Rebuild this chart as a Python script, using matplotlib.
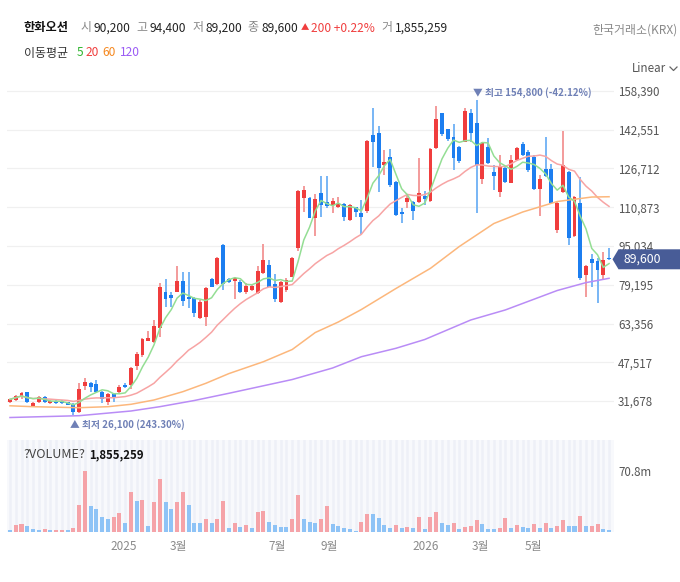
import numpy as np
import pandas as pd
import matplotlib
matplotlib.use('Agg')
import matplotlib.pyplot as plt
from matplotlib.patches import Polygon
from matplotlib.lines import Line2D
from matplotlib.transforms import IdentityTransform

plt.rcParams['font.family'] = ['Noto Sans CJK KR', 'DejaVu Sans']

stock_name = '한화오션'
exchange = '한국거래소(KRX)'

# weekly candles (KRW)
opens = [31270, 32090, 33720, 35230, 29640, 31270, 33310, 30740, 31800, 31680,
         31150, 30450, 27180, 37930, 38910, 38630, 35480, 31390, 34660, 35480,
         38220, 38220, 45980, 50480, 56320, 55910, 61510, 76350, 75000, 76350,
         80850, 74310, 73650, 65480, 66130, 81540, 79490, 95440, 81540, 80850,
         80440, 76350, 77040, 75690, 84110, 87260, 79490, 72020, 77040, 82480,
         94080, 114520, 114520, 106590, 116810, 112890, 111790, 110840, 112070, 105650,
         110840, 108390, 109330, 140390, 141330, 128130, 131280, 121060, 109050, 112890,
         112890, 112890, 115460, 113420, 135200, 149260, 142720, 139450, 135610, 137660,
         149260, 145170, 122290, 135370, 125400, 117220, 126780, 120900, 130180, 136720,
         133570, 131520, 118200, 126500, 126500, 101570, 117220, 125400, 99110, 112480,
         83170, 89590, 88900, 83170, 90200]
highs = [32620, 34130, 35480, 35480, 31390, 33600, 33720, 31960, 32090, 31960,
         31390, 30980, 38910, 41200, 39440, 40260, 35640, 34830, 34950, 38220,
         38910, 45700, 51830, 57550, 60170, 64780, 79900, 81420, 76350, 86850,
         84520, 84520, 74310, 72960, 78390, 81830, 90600, 95800, 82070, 82480,
         81130, 80030, 79490, 86850, 95720, 89300, 83460, 80720, 81830, 90650,
         117910, 119670, 115000, 116160, 123760, 123640, 114520, 115170, 112480, 112070,
         111090, 113830, 138350, 151550, 144070, 134260, 134550, 121400, 110440, 115870,
         113420, 130870, 117500, 134960, 152240, 149500, 143000, 144770, 135900, 151300,
         150900, 154800, 137660, 139040, 128130, 132220, 127190, 132220, 135610, 137660,
         134260, 132220, 124040, 139700, 128540, 113130, 142150, 125700, 115460, 123100,
         87260, 91760, 90000, 92700, 94400]
lows = [30980, 31680, 32620, 30860, 29230, 30980, 30740, 30450, 30450, 30450,
        29920, 26100, 26900, 36170, 35230, 34830, 30740, 30040, 31390, 35070,
        36870, 36580, 44350, 49540, 56080, 55260, 57840, 69970, 69970, 76100,
        70630, 69810, 66130, 65070, 62450, 78150, 79090, 77040, 79780, 73370,
        75940, 75290, 76760, 75290, 83580, 78150, 72020, 71610, 76350, 82230,
        92980, 108800, 106350, 99230, 106980, 110440, 108390, 110440, 105240, 105240,
        106980, 99810, 108390, 127440, 117220, 124040, 119260, 107410, 104310, 110680,
        105650, 112480, 111790, 113130, 134550, 140100, 138070, 126090, 128830, 137410,
        137660, 108640, 120370, 128540, 117910, 115170, 120650, 120650, 129890, 131810,
        125400, 117910, 107290, 123100, 112190, 100220, 116810, 95440, 98830, 81130,
        74310, 78390, 71610, 81420, 89200]
closes = [32370, 33720, 35070, 31150, 30980, 33310, 31150, 31680, 30740, 30740,
          30170, 27180, 36580, 39320, 37520, 35480, 32370, 34540, 33310, 37520,
          37280, 45290, 50890, 57140, 57430, 62330, 78270, 73240, 73900, 80850,
          72670, 73240, 67520, 72260, 77980, 78390, 90240, 79490, 80190, 82070,
          76350, 78680, 78680, 84930, 89300, 78390, 73370, 80440, 81130, 90240,
          117630, 117910, 106590, 114240, 111790, 111380, 113420, 112070, 107000, 111790,
          109050, 106980, 138070, 137660, 127030, 129480, 119960, 107700, 107980, 114520,
          109330, 116810, 114240, 134550, 146930, 140680, 138630, 130870, 129890, 150330,
          141330, 128130, 136990, 129070, 123640, 127720, 121310, 130180, 134960, 132220,
          126090, 118200, 122290, 123640, 112480, 112720, 128130, 98170, 115170, 81830,
          86850, 88200, 85220, 89400, 89600]
# weekly volume, millions of shares
volumes_m = [2.7, 8.2, 9.7, 7.4, 3.9, 1.9, 3.9, 1.9, 2.7, 2.8,
             2.6, 5.1, 31.9, 70.8, 30.7, 26.5, 17.9, 15.6, 17.9, 22.6,
             10.9, 47.1, 36.6, 37.7, 7.4, 35.4, 62.2, 35.4, 27.2, 35.4,
             47.1, 31.9, 10.9, 10.8, 15.6, 10.1, 15.6, 36.6, 5.1, 10.9,
             6.2, 8.6, 5.1, 23.7, 24.9, 12.1, 8.6, 6.2, 6.1, 15.6,
             43.6, 15.6, 12.1, 10.9, 15.6, 30.7, 9.7, 7.4, 5.1, 3.9,
             0.8, 12.1, 21.4, 21.3, 16.7, 8.6, 5.1, 8.6, 5.1, 6.2,
             5.1, 17.9, 3.9, 17.9, 23.7, 10.9, 8.6, 10.9, 3.9, 6.2,
             7.4, 14.4, 9.7, 3.9, 3.8, 5.1, 16.7, 5.1, 8.6, 6.2,
             5.1, 9.7, 5.1, 10.9, 5.1, 7.4, 14.4, 7.4, 7.3, 19.1,
             7.4, 7.5, 9.7, 3.9, 1.855259]

# long moving averages (bar index, price)
ma60_idx = [0, 4, 12, 17, 21, 25, 30, 34, 38, 44, 49, 53, 57, 61, 67, 73, 78, 84, 89, 95, 101, 104]
ma60_val = [29720, 29350, 28940, 29350, 30330, 32090, 35480, 38910, 42880, 47740, 52730,
            59670, 63970, 69070, 77660, 85910, 94820, 104220, 108920, 113210, 115050, 115170]
ma120_idx = [0, 12, 21, 26, 32, 38, 49, 56, 61, 67, 72, 80, 86, 95, 100, 104]
ma120_val = [24930, 25670, 27590, 29350, 31880, 34830, 40460, 45160, 49780, 53220,
             56810, 64800, 68900, 76840, 80070, 81830]

month_labels = ['2025', '3월', '7월', '9월', '2026', '3월', '5월']
month_pos = [19.7, 29.2, 46.3, 55.5, 72.2, 81.6, 90.8]
price_ticks = [31678, 47517, 63356, 79195, 95034, 110873, 126712, 142551, 158390]

UP, DOWN = '#f03d3d', '#1c7ef0'
UP_W, DOWN_W = '#f39b9b', '#78b6f5'
UP_V, DOWN_V = '#f5a3a8', '#8ec3f6'

W, H = 680, 582
def fx(px):
    return px / W
def fy(py):
    return 1 - py / H

o = np.array(opens); h = np.array(highs); l = np.array(lows); c = np.array(closes)
v = np.array(volumes_m)
n = len(c)
x = np.arange(n)
up = c >= o

fig = plt.figure(figsize=(6.8, 5.82), dpi=100)
ax = fig.add_axes([fx(7), fy(435), (614 - 7) / W, (435 - 80) / H])
vax = fig.add_axes([fx(7), fy(532), (614 - 7) / W, (532 - 440) / H])

# candles
ax.vlines(x, l, h, colors=np.where(up, UP_W, DOWN_W), lw=1.4, zorder=2)
body = np.maximum(np.abs(c - o), 300)
ax.bar(x, body, bottom=np.minimum(o, c), width=0.68,
       color=np.where(up, UP, DOWN), zorder=3)

ma5 = pd.Series(c).rolling(5, min_periods=1).mean()
ma20 = pd.Series(c).rolling(20, min_periods=1).mean()
ax.plot(x, ma20, color='#f7a4a4', lw=1.1, zorder=4)
ax.plot(ma60_idx, ma60_val, color='#fcb77c', lw=1.1, zorder=4)
ax.plot(ma120_idx, ma120_val, color='#b98cf6', lw=1.1, zorder=4)
ax.plot(x, ma5, color='#94de94', lw=1.1, zorder=4)

ax.set_xlim(-0.52, 104.86)
ax.set_ylim(17781, 162886)
ax.set_yticks(price_ticks, [f'{t:,}' for t in price_ticks])
ax.yaxis.tick_right()
ax.tick_params(axis='y', length=0, pad=3, labelsize=8.3, labelcolor='#555555')
ax.set_xticks([])
ax.grid(axis='y', color='#f0f0f0', lw=0.9, zorder=0)
for s in ax.spines.values():
    s.set_visible(False)

# high / low markers
last = c[-1]
hi = int(np.argmax(h)); lo = int(np.argmin(l))
ax.annotate(f'▼ 최고 {h[hi]:,} ({(last - h[hi]) / h[hi] * 100:.2f}%)',
            xy=(hi, h[hi]), xytext=(-4, 7), textcoords='offset pixels',
            ha='left', va='center', fontsize=7.0, fontweight='bold', color='#6f80b6')
ax.annotate(f'▲ 최저 {l[lo]:,} ({(last - l[lo]) / l[lo] * 100:.2f}%)',
            xy=(lo, l[lo]), xytext=(-3, -10), textcoords='offset pixels',
            ha='left', va='center', fontsize=7.0, fontweight='bold', color='#6f80b6',
            annotation_clip=False)

# volume panel
vax.set_facecolor('#f8f9fc')
for i in x:
    vax.axvline(i, color='#eef0f7', lw=1.8, zorder=0)
vol_up = np.concatenate([[False], v[1:] > v[:-1]])
vax.bar(x, v, width=0.7, color=np.where(vol_up, UP_V, DOWN_V), zorder=2)
vmax = v.max()
vax.set_xlim(-0.52, 104.86)
vax.set_ylim(0, vmax * 1.52)
vax.set_yticks([vmax], [f'{vmax:.1f}m'])
vax.yaxis.tick_right()
vax.tick_params(axis='y', length=0, pad=3, labelsize=8.3, labelcolor='#555555')
vax.set_xticks(month_pos, month_labels)
vax.tick_params(axis='x', length=0, pad=6, labelsize=8.5, labelcolor='#8a8a8a')
for s in vax.spines.values():
    s.set_visible(False)

fig.text(fx(23), fy(455), '?VOLUME?', fontsize=9.0, color='#444444', va='center')
fig.text(fx(89), fy(455), f'{int(round(v[-1] * 1e6)):,}', fontsize=8.2,
         fontweight='bold', color='#111111', va='center')

# header
hy = fy(28)
fig.text(fx(24), hy, stock_name, fontsize=8.8, fontweight='bold', color='#111111', va='center')
pairs = [('시', o[-1], 80.8, 93.9), ('고', h[-1], 136.2, 149.8),
         ('저', l[-1], 192.1, 205.2), ('종', c[-1], 247.6, 261.1)]
for lab, val, lx, vx in pairs:
    fig.text(fx(lx), hy, lab, fontsize=8.6, color='#888888', va='center')
    fig.text(fx(vx), hy, f'{val:,}', fontsize=8.6, color='#222222', va='center')
chg = c[-1] - c[-2]
fig.text(fx(300.5), hy, '▲', fontsize=6, color='#f03e3e', va='center')
fig.text(fx(311.4), hy, f'{chg:,} +{chg / c[-2] * 100:.2f}%', fontsize=8.6,
         color='#f03e3e', va='center')
fig.text(fx(381.2), hy, '거', fontsize=8.6, color='#888888', va='center')
fig.text(fx(395.2), hy, f'{int(round(v[-1] * 1e6)):,}', fontsize=8.6, color='#222222', va='center')
fig.text(fx(678), fy(30), exchange, fontsize=8.6, color='#8a8a8a', va='center', ha='right')

my = fy(53)
fig.text(fx(24), my, '이동평균', fontsize=8.6, color='#333333', va='center')
for lab, col, px in [('5', '#2fb52f', 76.4), ('20', '#f03e3e', 86),
                     ('60', '#f5881f', 102.6), ('120', '#9b5cf5', 120.1)]:
    fig.text(fx(px), my, lab, fontsize=8.6, color=col, va='center')

fig.text(fx(632), fy(69), 'Linear', fontsize=8.4, color='#555555', va='center')
fig.add_artist(Line2D([fx(670), fx(673.5), fx(677)], [fy(67), fy(70.5), fy(67)],
                      transform=fig.transFigure, color='#666666', lw=0.9))

# current price tag
fig.canvas.draw()
ty = ax.transData.transform((0, last))[1]
tag = Polygon([(612.5, ty), (618.5, ty + 10), (680, ty + 10), (680, ty - 10), (618.5, ty - 10)],
              closed=True, transform=IdentityTransform(), facecolor='#485c97',
              edgecolor='none', zorder=10)
fig.add_artist(tag)
fig.text(624, ty, f'{last:,}', transform=IdentityTransform(), fontsize=8.8,
         color='white', va='center', zorder=11)

fig.savefig('out.png', dpi=100)
